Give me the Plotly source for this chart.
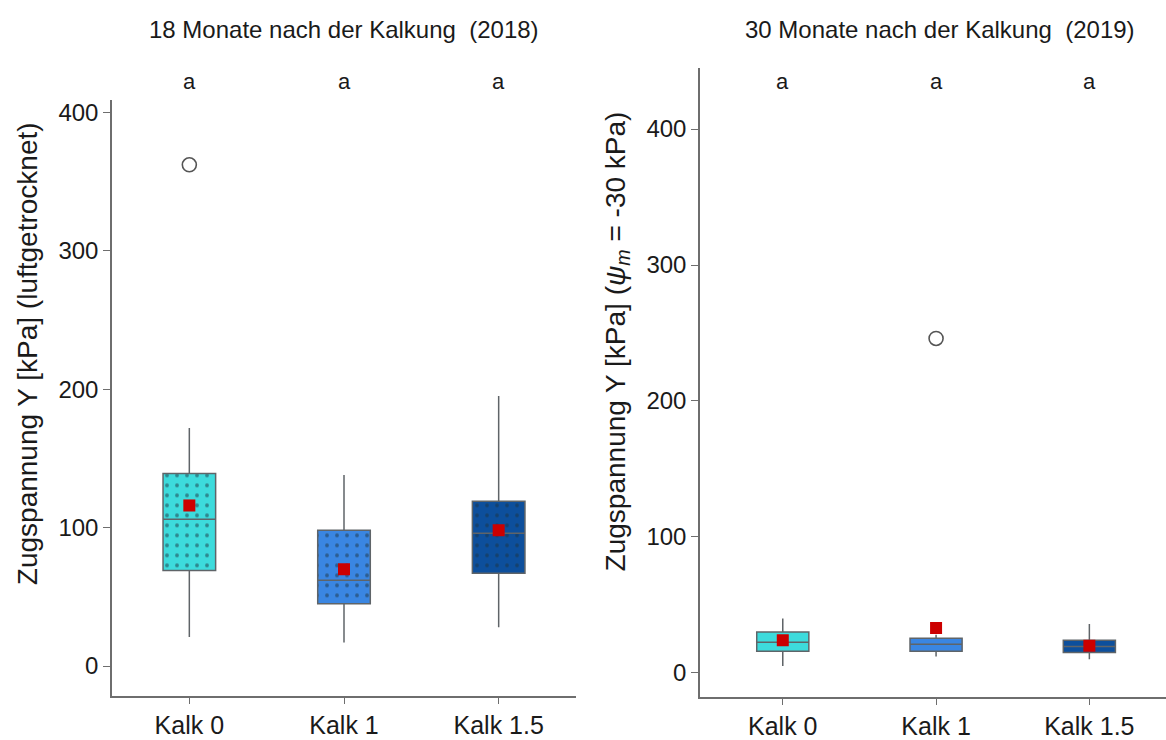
import plotly.graph_objects as go

# Treatments
categories = ["Kalk 0", "Kalk 1", "Kalk 1.5"]
colors = ["#3ddbdc", "#3a86e2", "#0d4f9c"]

# 18 months after liming (2018), air-dried
q1_2018 = [69, 45, 67]
median_2018 = [106, 62, 96]
q3_2018 = [139, 98, 119]
low_2018 = [21, 17, 28]
high_2018 = [172, 138, 195]
mean_2018 = [116, 70, 98]
outlier_x_2018 = ["Kalk 0"]
outlier_y_2018 = [362]

# 30 months after liming (2019), psi_m = -30 kPa
q1_2019 = [16, 16, 15]
median_2019 = [22.5, 21, 19.5]
q3_2019 = [30, 25.5, 24]
low_2019 = [5, 12, 10]
high_2019 = [40, 28, 36]
mean_2019 = [24, 33, 20]
outlier_x_2019 = ["Kalk 1"]
outlier_y_2019 = [246]

letters_2018 = ["a", "a", "a"]
letters_2019 = ["a", "a", "a"]

W, H = 1166, 740
FONT = "Liberation Sans, Arial, sans-serif"
TXT = "#1a1a1a"
BOXW = 0.34
LINE = "#5f6468"

fig = go.Figure()


def add_panel(xa, ya, q1, med, q3, lo, hi, mean, ox, oy, dotted):
    for i, cat in enumerate(categories):
        if dotted:
            # dotted fill underneath the box outline
            fig.add_trace(go.Bar(
                x=[cat], y=[q3[i] - q1[i]], base=[q1[i]], width=BOXW,
                xaxis=xa, yaxis=ya, showlegend=False, hoverinfo="skip",
                marker=dict(color=colors[i], line=dict(width=0),
                            pattern=dict(shape=".", size=10, solidity=0.12,
                                         fgcolor="#1d3440", bgcolor=colors[i])),
            ))
        fig.add_trace(go.Box(
            x=[cat], q1=[q1[i]], median=[med[i]], q3=[q3[i]],
            lowerfence=[lo[i]], upperfence=[hi[i]],
            width=BOXW, whiskerwidth=0,
            fillcolor="rgba(0,0,0,0)" if dotted else colors[i],
            line=dict(color=LINE, width=1.5),
            xaxis=xa, yaxis=ya, showlegend=False, hoverinfo="skip",
        ))
    fig.add_trace(go.Scatter(
        x=ox, y=oy, mode="markers", xaxis=xa, yaxis=ya, showlegend=False,
        marker=dict(symbol="circle-open", size=14, color="#555555",
                    line=dict(width=1.6)),
    ))
    fig.add_trace(go.Scatter(
        x=categories, y=mean, mode="markers", xaxis=xa, yaxis=ya,
        showlegend=False,
        marker=dict(symbol="square", size=12, color="#cc0000"),
    ))


add_panel("x", "y", q1_2018, median_2018, q3_2018, low_2018, high_2018,
          mean_2018, outlier_x_2018, outlier_y_2018, True)
add_panel("x2", "y2", q1_2019, median_2019, q3_2019, low_2019, high_2019,
          mean_2019, outlier_x_2019, outlier_y_2019, False)

axis_common = dict(
    showline=True, linecolor="#6e6e6e", linewidth=1.5,
    ticks="outside", ticklen=7, tickcolor="#6e6e6e", tickwidth=1.2,
    showgrid=False, zeroline=False,
)
xtick = dict(family=FONT, size=25, color=TXT)
ytick = dict(family=FONT, size=24, color=TXT)
ytitle = dict(family=FONT, size=28, color=TXT)

fig.update_layout(
    width=W, height=H,
    margin=dict(l=0, r=0, t=0, b=0),
    paper_bgcolor="white", plot_bgcolor="white",
    boxmode="overlay", barmode="overlay",
    font=dict(family=FONT, color=TXT),
    xaxis=dict(domain=[112 / W, 576 / W], anchor="y",
               categoryorder="array", categoryarray=categories,
               range=[-0.5, 2.5], tickfont=xtick, **axis_common),
    yaxis=dict(domain=[1 - 705 / H, 1 - 100 / H], anchor="x",
               range=[-21.3, 408.5], tickvals=[0, 100, 200, 300, 400],
               tickfont=ytick, **axis_common),
    xaxis2=dict(domain=[700 / W, 1.0], anchor="y2",
                categoryorder="array", categoryarray=categories,
                range=[-0.54, 2.5], tickfont=xtick, **axis_common),
    yaxis2=dict(domain=[1 - 706 / H, 1 - 67 / H], anchor="x2",
                range=[-17.4, 445], tickvals=[0, 100, 200, 300, 400],
                tickfont=ytick, **axis_common),
)

annotations = [
    dict(text="18 Monate nach der Kalkung\u00a0 (2018)", x=344 / W, y=1 - 28 / H,
         xref="paper", yref="paper", xanchor="center", yanchor="middle",
         showarrow=False, font=dict(family=FONT, size=24, color=TXT)),
    dict(text="30 Monate nach der Kalkung\u00a0 (2019)", x=940 / W, y=1 - 28 / H,
         xref="paper", yref="paper", xanchor="center", yanchor="middle",
         showarrow=False, font=dict(family=FONT, size=24, color=TXT)),
    # y-axis titles
    dict(text="Zugspannung Y [kPa] (luftgetrocknet)", textangle=-90,
         x=27 / W, y=1 - 358 / H, xref="paper", yref="paper",
         xanchor="center", yanchor="middle", showarrow=False, font=ytitle),
    dict(text="Zugspannung Y [kPa] (<i>ψ<sub>m</sub></i> = -30 kPa)",
         textangle=-90, x=617 / W, y=1 - 345 / H, xref="paper", yref="paper",
         xanchor="center", yanchor="middle", showarrow=False, font=ytitle),
]
for xa, letters in (("x", letters_2018), ("x2", letters_2019)):
    for cat, lab in zip(categories, letters):
        annotations.append(dict(text=lab, x=cat, y=1 - 81 / H, xref=xa,
                                yref="paper", xanchor="center",
                                yanchor="middle", showarrow=False,
                                font=dict(family=FONT, size=22, color=TXT)))
fig.update_layout(annotations=annotations)

fig.write_html("out.html")
